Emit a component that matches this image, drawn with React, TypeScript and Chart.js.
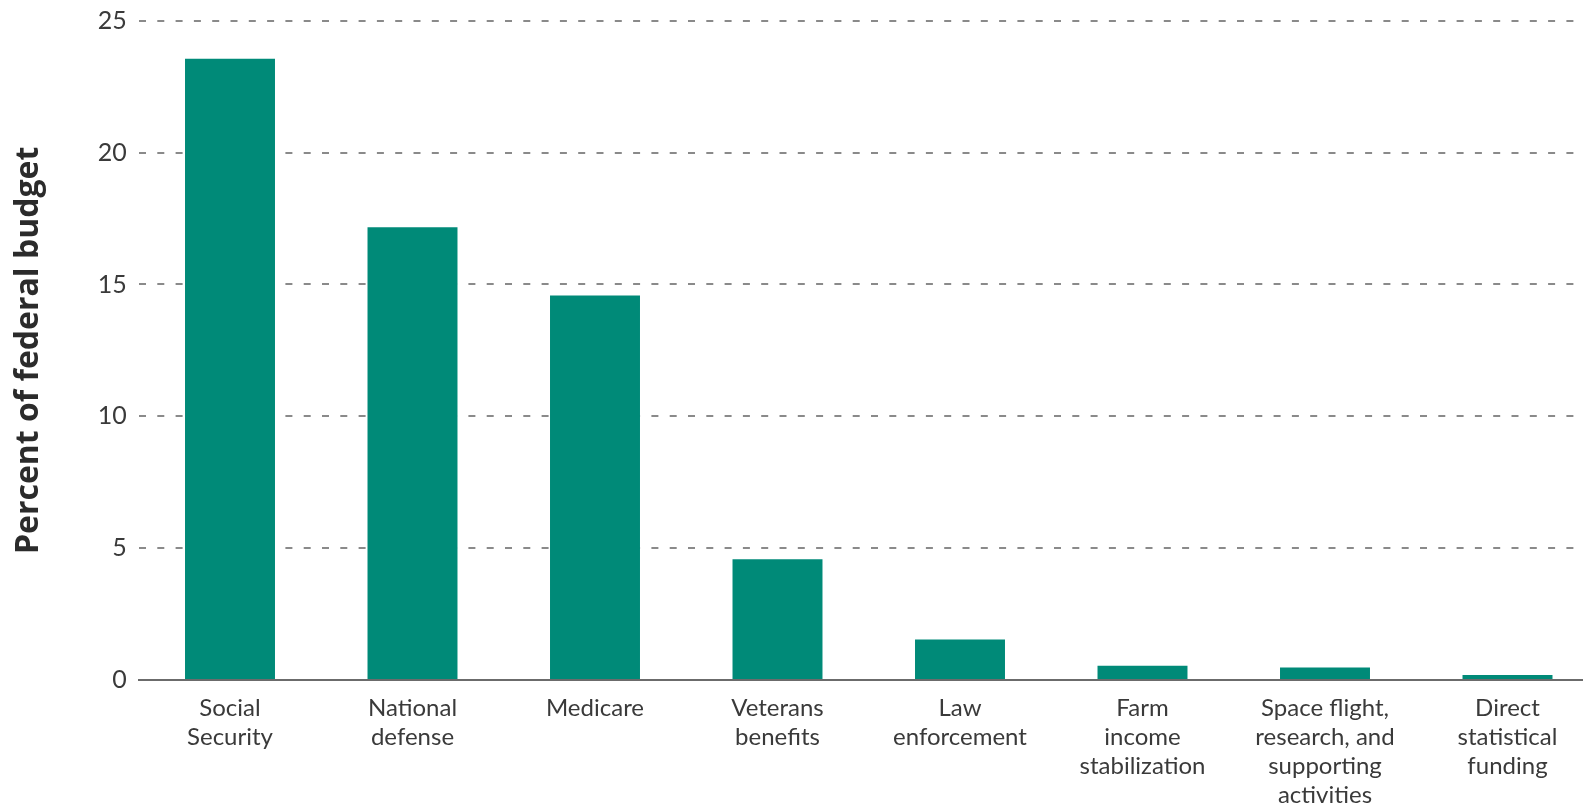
import React, { useEffect, useRef } from "react";
import { Chart, registerables } from "chart.js";

Chart.register(...registerables);

const categories: string[][] = [
  ["Social", "Security"],
  ["National", "defense"],
  ["Medicare"],
  ["Veterans", "benefits"],
  ["Law", "enforcement"],
  ["Farm", "income", "stabilization"],
  ["Space flight,", "research, and", "supporting", "activities"],
  ["Direct", "statistical", "funding"],
];
const budgetShare: number[] = [23.56, 17.17, 14.58, 4.58, 1.54, 0.54, 0.47, 0.19];
const yMin = 0;
const yMax = 25;
const yStep = 5;
const yTitle = "Percent of federal budget";

const BAR_COLOR = "#008a78";

export default function App() {
  const ref = useRef<HTMLCanvasElement | null>(null);

  useEffect(() => {
    if (!ref.current) return;
    const chart = new Chart(ref.current, {
      type: "bar",
      data: {
        labels: categories,
        datasets: [
          {
            data: budgetShare,
            backgroundColor: BAR_COLOR,
            borderWidth: 0,
            categoryPercentage: 1,
            barPercentage: 0.493,
          },
        ],
      },
      options: {
        animation: false,
        responsive: false,
        devicePixelRatio: 1,
        layout: { padding: { top: 10, right: 1.25, bottom: 0, left: 0 } },
        plugins: { legend: { display: false }, tooltip: { enabled: false } },
        scales: {
          x: {
            offset: true,
            grid: { display: false },
            border: { display: true, color: "#6b6b6b", width: 2, z: 1 },
            ticks: {
              autoSkip: false,
              maxRotation: 0,
              minRotation: 0,
              padding: 6,
              color: "#3a3a3a",
              font: { family: "Lato", size: 24, lineHeight: 1.2 },
            },
            afterFit: (scale: any) => {
              scale.height = 128;
            },
          },
          y: {
            min: yMin,
            max: yMax,
            border: { display: false, dash: [7, 11.3] },
            grid: {
              drawTicks: false,
              lineWidth: 2,
              color: (ctx: any) => (ctx.tick && ctx.tick.value === 0 ? "rgba(0,0,0,0)" : "#8a8a8a"),
            },
            ticks: {
              stepSize: yStep,
              padding: 12,
              color: "#3a3a3a",
              font: { family: "Lato", size: 25, lineHeight: 0.7 },
            },
            title: {
              display: true,
              text: yTitle,
              color: "#2b2b2b",
              font: { family: "Open Sans", size: 32, weight: "bold" },
              padding: { top: 10, bottom: 0 },
            },
            afterFit: (scale: any) => {
              scale.width = 138.75;
            },
          },
        },
      },
    });
    return () => chart.destroy();
  }, []);

  return (
    <div
      style={{
        position: "fixed",
        left: 0,
        top: 0,
        width: 1583,
        height: 808,
        overflow: "hidden",
        background: "#ffffff",
      }}
    >
      <canvas
        ref={ref}
        width={1600}
        height={808}
        style={{ position: "absolute", left: 0, top: 0, width: 1600, height: 808 }}
      />
    </div>
  );
}
